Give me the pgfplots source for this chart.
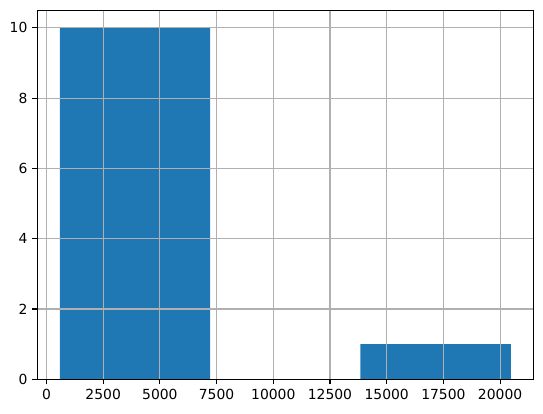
\documentclass[border=0pt]{standalone}
\usepackage{pgfplots}
\pgfplotsset{compat=1.18}
\usetikzlibrary{calc}
\usepackage{fontspec}
\setmainfont{DejaVu Sans}
\definecolor{mplblue}{HTML}{1F77B4}
\definecolor{gridgray}{HTML}{B0B0B0}
\begin{document}
\begin{tikzpicture}
\begin{axis}[
  scale only axis,
  width=496pt, height=369pt,
  xmin=-404, xmax=21464,
  ymin=0, ymax=10.5,
  xtick={0,2500,5000,7500,10000,12500,15000,17500,20000},
  ytick={0,2,4,6,8,10},
  /pgf/number format/assume math mode=true,
  /pgf/number format/1000 sep={},
  scaled x ticks=false,
  tick align=outside,
  major tick length=4.86pt,
  tick style={black, line width=1.1pt},
  axis line style={black, line width=1.1pt},
  grid=major,
  grid style={gridgray, line width=1.1pt},
  axis on top,
  ticklabel style={font=\fontsize{13.9}{16}\selectfont, inner sep=0pt},
  xticklabel style={yshift=-4.86pt},
  yticklabel style={xshift=-4.86pt},
  xtick pos=bottom, ytick pos=left,
]
\addplot[ybar interval, fill=mplblue, draw=none] coordinates {
  (590,10) (7217,0) (13843,1) (20470,1)
};
\coordinate (ll) at (rel axis cs:0,0);
\coordinate (ur) at (rel axis cs:1,1);
\end{axis}
\pgfresetboundingbox
\path[use as bounding box] ($(ll)+(-37.3pt,-33.7pt)$) rectangle ($(ur)+(9.7pt,10.3pt)$);
\end{tikzpicture}
\end{document}
